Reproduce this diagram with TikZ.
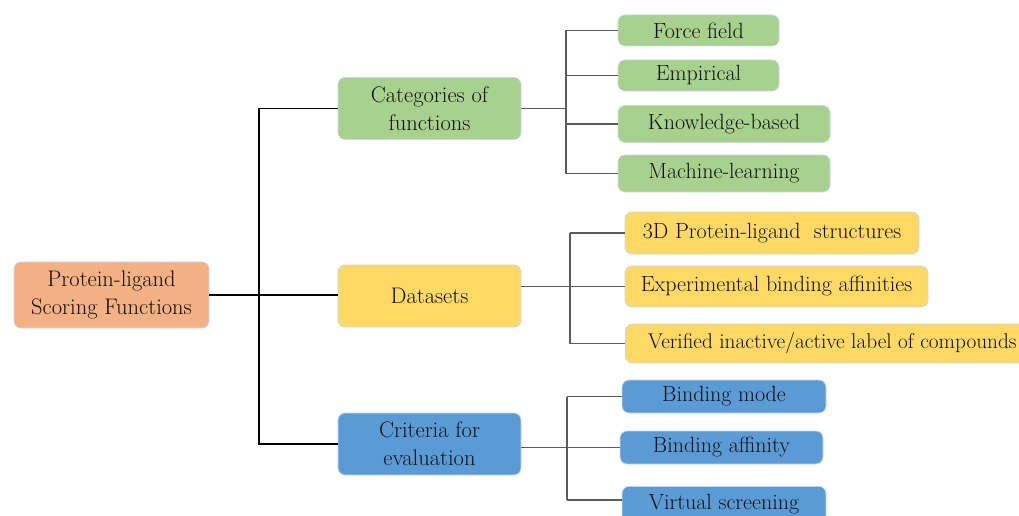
\documentclass[tikz,border=0pt]{standalone}
\definecolor{cgreen}{RGB}{169,209,142}
\definecolor{cyellow}{RGB}{255,217,102}
\definecolor{cblue}{RGB}{91,155,213}
\definecolor{corange}{RGB}{244,177,131}
\definecolor{cedge}{RGB}{200,215,235}
\definecolor{ctext}{RGB}{15,15,15}
\definecolor{cline}{RGB}{90,90,90}
\begin{document}
\begin{tikzpicture}[x=1pt,y=-1pt,
  box/.style={draw=cedge, line width=0.8pt, rounded corners=7pt, inner sep=0pt, align=center,
    text=ctext, font=\fontsize{22}{24}\selectfont},
  lvl/.style={box, minimum width=183pt, minimum height=62pt, font=\fontsize{22.5}{28}\selectfont},
  trunk/.style={line width=1.8pt, black},
  twig/.style={line width=1.2pt, cline}]
\useasboundingbox (0,0) rectangle (1019,516);
\clip (0,0) rectangle (1019,516);
% root and level 1
\node[lvl, fill=corange, minimum width=195pt, minimum height=66pt] (root) at (111.5,295) {Protein-ligand\\Scoring Functions};
\node[lvl, fill=cgreen] (cat) at (429.5,108.5) {Categories of\\functions};
\node[lvl, fill=cyellow] (ds) at (429.5,296) {Datasets};
\node[lvl, fill=cblue] (crit) at (429.5,444) {Criteria for\\evaluation};
% categories children
\node[box, fill=cgreen, minimum width=161pt, minimum height=31pt] (ff) at (698.5,30.5) {Force field};
\node[box, fill=cgreen, minimum width=161pt, minimum height=31pt] (emp) at (698.5,75.5) {Empirical};
\node[box, fill=cgreen, minimum width=212pt, minimum height=37pt] (kb) at (724,124) {Knowledge-based};
\node[box, fill=cgreen, minimum width=212pt, minimum height=37pt] (ml) at (724,173.5) {Machine-learning};
% datasets children
\node[box, fill=cyellow, minimum width=294pt, minimum height=42pt] (s3d) at (772,233) {3D Protein-ligand\ \ structures};
\node[box, fill=cyellow, minimum width=303pt, minimum height=41pt] (exp) at (776.5,286.5) {Experimental binding affinities};
\node[box, fill=cyellow, minimum width=405pt, minimum height=39pt, anchor=west, font=\fontsize{21.3}{24}\selectfont] (ver) at (625,343.5) {\hspace*{9pt}Verified inactive/active label of compounds\hfill};
% criteria children
\node[box, fill=cblue, minimum width=204pt, minimum height=33pt] (bm) at (724,396.5) {Binding mode};
\node[box, fill=cblue, minimum width=203pt, minimum height=33pt] (ba) at (721.5,447.5) {Binding affinity};
\node[box, fill=cblue, minimum width=204pt, minimum height=36pt, anchor=north] (vs) at (724,486) {Virtual screening};
% trunk
\coordinate (tx) at (259,0);
\draw[trunk] (root.east) -- (root.east -| ds.west);
\draw[trunk] (cat.west) -- (cat.west -| tx) -- (crit.west -| tx) -- (crit.west);
% categories bus
\coordinate (b1) at (566,0);
\draw[twig] (cat.east) -- (cat.east -| b1);
\draw[twig] (ff.west -| b1) -- (ml.west -| b1);
\foreach \n in {ff,emp,kb,ml} \draw[twig] (\n.west -| b1) -- (\n.west);
% datasets bus
\coordinate (b2) at (570,0);
\draw[twig] (exp.west -| ds.east) -- (exp.west);
\draw[twig] (s3d.west -| b2) -- (ver.west -| b2);
\foreach \n in {s3d,ver} \draw[twig] (\n.west -| b2) -- (\n.west);
% criteria bus
\coordinate (b3) at (567,0);
\coordinate (vsy) at (0,500);
\draw[twig] (ba.west -| crit.east) -- (ba.west);
\draw[twig] (bm.west -| b3) -- (vsy -| b3);
\draw[twig] (bm.west -| b3) -- (bm.west);
\draw[twig] (vsy -| b3) -- (vsy -| vs.west);
\end{tikzpicture}
\end{document}
